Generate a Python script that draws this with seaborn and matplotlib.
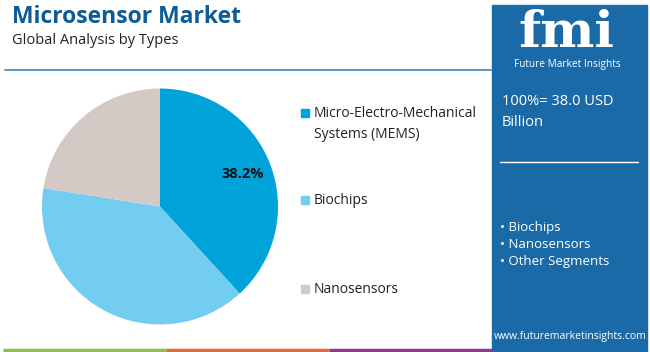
import matplotlib
matplotlib.use("Agg")
import matplotlib.pyplot as plt
import seaborn as sns
from matplotlib.patches import Rectangle
from matplotlib.lines import Line2D

sns.set_theme(style="white")
plt.rcParams['font.family'] = ['Open Sans', 'DejaVu Sans']

categories = ["Micro-Electro-Mechanical\nSystems (MEMS)", "Biochips", "Nanosensors"]
shares = [38.2, 39.3, 22.5]
colors = ["#00a2da", "#72cdf1", "#d4c9c5"]
panel_items = ["Biochips", "Nanosensors", "Other Segments"]
title = "Microsensor Market"
subtitle = "Global Analysis by Types"
total_text = "100%= 38.0 USD\nBillion"
W, H = 650, 352

fig = plt.figure(figsize=(6.5, 3.52), dpi=100)
fig.patch.set_facecolor("white")

def fx(x): return x / W
def fy(y): return 1 - y / H

# pie
cx, cy, r = 160, 206.5, 118
ax = fig.add_axes([fx(cx - r), fy(cy + r), 2 * r / W, 2 * r / H])
wedges, texts, autotexts = ax.pie(
    shares, colors=colors, startangle=90, counterclock=False,
    autopct=lambda p: f"{p:.1f}%" if abs(p - shares[0]) < 0.05 else "",
    pctdistance=0.75, wedgeprops=dict(linewidth=0),
    textprops=dict(fontsize=10.5, fontweight="bold", color="#111111"))
ax.set_aspect("equal")
ax.set_xlim(-1, 1); ax.set_ylim(-1, 1)
ax.axis("off")

# title
fig.text(fx(12), fy(17), title, fontsize=16.5, fontweight="bold", color="#0d5c97", va="center", ha="left")
fig.text(fx(12), fy(41), subtitle, fontsize=10.5, color="#222222", va="center", ha="left")
fig.add_artist(Line2D([fx(5), fx(492)], [fy(70), fy(70)], color="#4a8fc4", lw=1.3))

# legend
leg_y = [113, 200, 289]
for lab, col, y in zip(categories, colors, leg_y):
    fig.add_artist(Rectangle((fx(301), fy(y + 4)), 8 / W, 8 / H, color=col, transform=fig.transFigure))
    fig.text(fx(314), fy(y - 7), lab, fontsize=10, color="#222222", va="top", ha="left", linespacing=1.55)

# right panel
fig.add_artist(Rectangle((fx(492), 0), (647 - 492) / W, (H - 5) / H, color="#1a6aa7", transform=fig.transFigure, zorder=0))
fig.text(fx(566), fy(47), "fmi", fontsize=37, fontweight="bold", family="DejaVu Serif", color="white", ha="center", va="baseline")
fig.text(fx(567), fy(64), "Future Market Insights", fontsize=7.3, color="white", ha="center", va="center")
fig.text(fx(502), fy(112), total_text, fontsize=10.5, color="white", ha="left", va="center", linespacing=1.6)
fig.add_artist(Line2D([fx(500), fx(638)], [fy(162), fy(162)], color="white", lw=1))
for i, t in enumerate(panel_items):
    fig.text(fx(500), fy(228 + 17 * i), "• " + t, fontsize=9.5, color="white", ha="left", va="center")
fig.text(fx(570), fy(337), "www.futuremarketinsights.com", fontsize=7.5, color="white", ha="center", va="center")

# bottom color strip
for x0, x1, c in [(3, 166, "#8cc04b"), (166, 329, "#e0683a"), (329, 492, "#8e3b8f")]:
    fig.add_artist(Line2D([fx(x0), fx(x1)], [fy(349.5), fy(349.5)], color=c, lw=2.5, solid_capstyle="butt"))

fig.savefig("out.png", dpi=100, facecolor="white")
